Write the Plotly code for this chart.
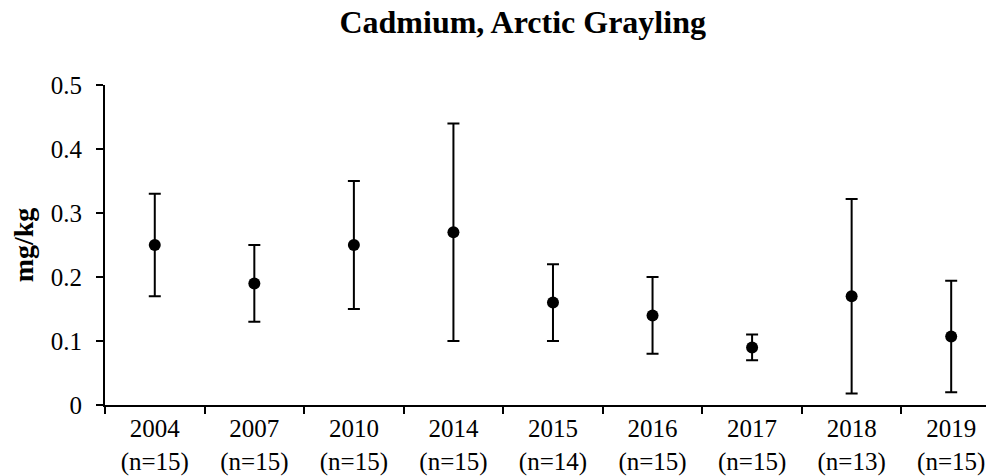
import plotly.graph_objects as go

years = ["2004", "2007", "2010", "2014", "2015", "2016", "2017", "2018", "2019"]
n_counts = [15, 15, 15, 15, 14, 15, 15, 13, 15]
means = [0.25, 0.19, 0.25, 0.27, 0.16, 0.14, 0.09, 0.17, 0.107]
upper = [0.33, 0.25, 0.35, 0.44, 0.22, 0.20, 0.11, 0.322, 0.194]
lower = [0.17, 0.13, 0.15, 0.10, 0.10, 0.08, 0.07, 0.018, 0.02]
y_ticks = [0, 0.1, 0.2, 0.3, 0.4, 0.5]

labels = [f"{y}<br>(n={n})" for y, n in zip(years, n_counts)]
err_plus = [u - m for u, m in zip(upper, means)]
err_minus = [m - l for m, l in zip(means, lower)]

FONT = "Liberation Serif, Times New Roman, serif"

fig = go.Figure()
fig.add_trace(go.Scatter(
    x=labels, y=means, mode="markers",
    marker=dict(color="black", size=12),
    error_y=dict(type="data", symmetric=False, array=err_plus, arrayminus=err_minus,
                 color="black", thickness=2, width=6),
    showlegend=False,
))

# page body has an 8px margin; the figure is sized/offset to compensate
fig.update_layout(
    width=986, height=468,
    margin=dict(l=97, r=0, t=77, b=71),
    paper_bgcolor="white", plot_bgcolor="white",
    font=dict(family=FONT, color="black", size=25),
    title=dict(text="<b>Cadmium, Arctic Grayling</b>", x=0.522, xanchor="center",
               y=0.9696, yanchor="middle", font=dict(family=FONT, size=32, color="black")),
)
fig.update_xaxes(
    type="category", categoryorder="array", categoryarray=labels,
    range=[-0.5, 8.43], tickson="boundaries",
    showline=True, linecolor="black", linewidth=2,
    ticks="outside", ticklen=7, tickwidth=2, tickcolor="black",
    showgrid=False, zeroline=False,
    tickfont=dict(family=FONT, size=25, color="black"),
)
fig.update_yaxes(
    range=[0, 0.5], tickvals=y_ticks, ticktext=[str(v) for v in y_ticks],
    showline=True, linecolor="black", linewidth=2,
    ticks="outside", ticklen=7, tickwidth=2, tickcolor="black",
    showgrid=False, zeroline=False,
    tickfont=dict(family=FONT, size=25, color="black"),
    ticklabelstandoff=9,
    title=dict(text="<b>mg/kg</b>", font=dict(family=FONT, size=28, color="black"), standoff=12),
)

fig.write_html("out.html")
